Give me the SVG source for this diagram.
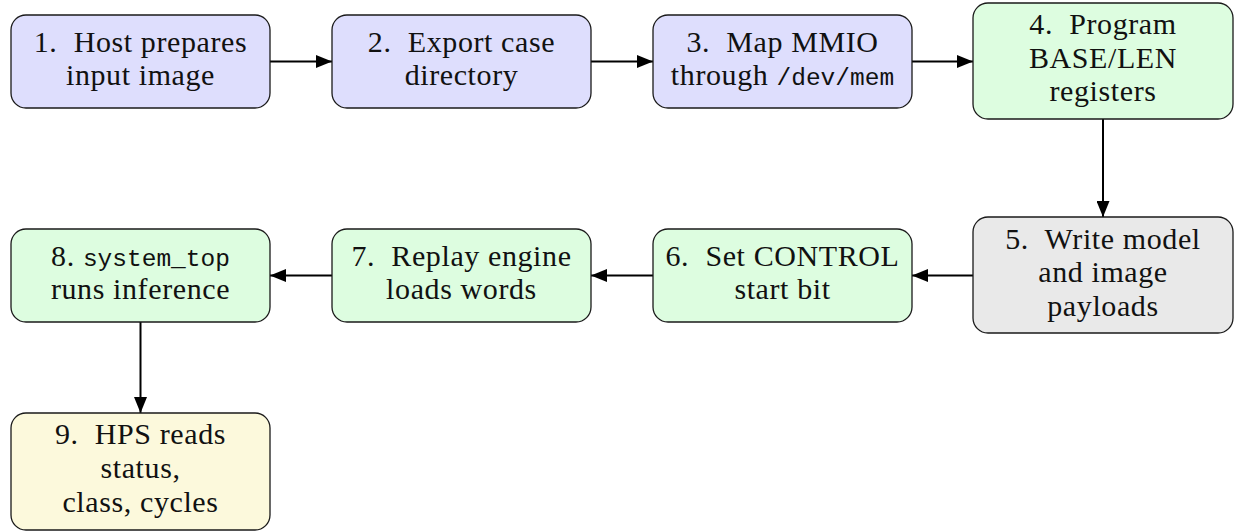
<svg xmlns="http://www.w3.org/2000/svg" width="1235" height="531" viewBox="0 0 1235 531">
  <style>
    .box { stroke: #1a1a1a; stroke-width: 1.3; }
    .blue { fill: #dedefd; }
    .green { fill: #ddfde0; }
    .gray { fill: #e9e9e9; }
    .yellow { fill: #fcf9dc; }
    .lbl { font-family: "Liberation Serif", "Times New Roman", serif; font-size: 30px; letter-spacing: 0.6px; fill: #111; text-anchor: middle; white-space: pre; }
    .tt { font-family: "Liberation Mono", "Courier New", monospace; font-size: 24.5px; letter-spacing: 0; }
    .edge { stroke: #000; stroke-width: 2; fill: none; marker-end: url(#head); }
  </style>
  <defs>
    <marker id="head" viewBox="0 0 16 13" refX="16" refY="6.5" markerWidth="16" markerHeight="13" markerUnits="userSpaceOnUse" orient="auto">
      <path d="M0,0 L16,6.5 L0,13 Z" fill="#000"/>
    </marker>
  </defs>

  <g id="connectors">
    <line class="edge" x1="270" y1="61.5" x2="332" y2="61.5"/>
    <line class="edge" x1="591" y1="61.5" x2="653" y2="61.5"/>
    <line class="edge" x1="912" y1="61.5" x2="973" y2="61.5"/>
    <line class="edge" x1="1103" y1="119" x2="1103" y2="217"/>
    <line class="edge" x1="973" y1="275.5" x2="912" y2="275.5"/>
    <line class="edge" x1="653" y1="275.5" x2="591" y2="275.5"/>
    <line class="edge" x1="332" y1="275.5" x2="270" y2="275.5"/>
    <line class="edge" x1="140.5" y1="322" x2="140.5" y2="413"/>
  </g>

  <g id="n1">
    <rect class="box blue" x="11" y="15" width="259" height="93" rx="15"/>
    <text class="lbl" x="140.5" y="52" xml:space="preserve">1.  Host prepares</text>
    <text class="lbl" x="140.5" y="85">input image</text>
  </g>
  <g id="n2">
    <rect class="box blue" x="332" y="15" width="259" height="93" rx="15"/>
    <text class="lbl" x="461.5" y="52" xml:space="preserve">2.  Export case</text>
    <text class="lbl" x="461.5" y="85">directory</text>
  </g>
  <g id="n3">
    <rect class="box blue" x="653" y="15" width="259" height="93" rx="15"/>
    <text class="lbl" x="782.5" y="52" xml:space="preserve">3.  Map MMIO</text>
    <text class="lbl" x="782.5" y="85">through <tspan class="tt">/dev/mem</tspan></text>
  </g>
  <g id="n4">
    <rect class="box green" x="973" y="3" width="260" height="116" rx="15"/>
    <text class="lbl" x="1103" y="34" xml:space="preserve">4.  Program</text>
    <text class="lbl" x="1103" y="68">BASE/LEN</text>
    <text class="lbl" x="1103" y="101">registers</text>
  </g>
  <g id="n5">
    <rect class="box gray" x="973" y="217" width="260" height="116" rx="15"/>
    <text class="lbl" x="1103" y="249" xml:space="preserve">5.  Write model</text>
    <text class="lbl" x="1103" y="282">and image</text>
    <text class="lbl" x="1103" y="316">payloads</text>
  </g>
  <g id="n6">
    <rect class="box green" x="653" y="229" width="259" height="93" rx="15"/>
    <text class="lbl" x="782.5" y="266" xml:space="preserve">6.  Set CONTROL</text>
    <text class="lbl" x="782.5" y="299">start bit</text>
  </g>
  <g id="n7">
    <rect class="box green" x="332" y="229" width="259" height="93" rx="15"/>
    <text class="lbl" x="461.5" y="266" xml:space="preserve">7.  Replay engine</text>
    <text class="lbl" x="461.5" y="299">loads words</text>
  </g>
  <g id="n8">
    <rect class="box green" x="11" y="229" width="259" height="93" rx="15"/>
    <text class="lbl" x="140.5" y="266">8. <tspan class="tt">system_top</tspan></text>
    <text class="lbl" x="140.5" y="299">runs inference</text>
  </g>
  <g id="n9">
    <rect class="box yellow" x="11" y="413" width="259" height="117" rx="15"/>
    <text class="lbl" x="140.5" y="444" xml:space="preserve">9.  HPS reads</text>
    <text class="lbl" x="140.5" y="478">status,</text>
    <text class="lbl" x="140.5" y="512">class, cycles</text>
  </g>
</svg>
